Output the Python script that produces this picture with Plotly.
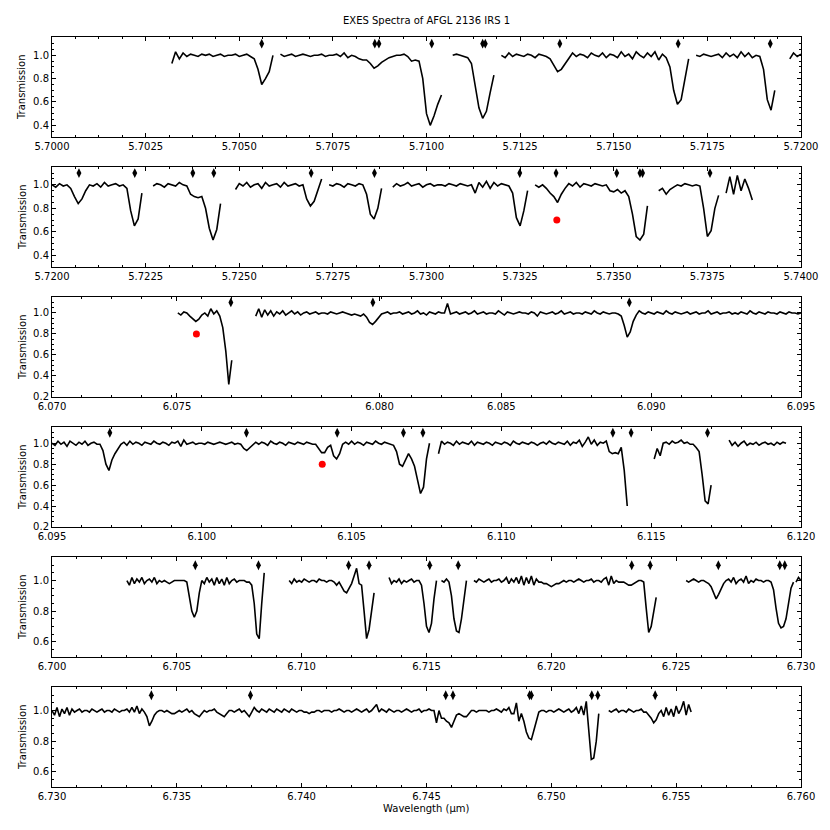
import plotly.graph_objects as go
from plotly.subplots import make_subplots

STEP = 0.0001  # wavelength sampling of the spectra (um)

# ---------------- Panel 1 : 5.700 - 5.720 um ----------------
p1_a = [0.93,1.03,0.97,1.02,0.99,1.01,1.00,0.99,1.01,1.00,
        1.01,0.99,1.00,1.01,0.99,1.00,1.00,1.01,0.99,1.00,
        1.01,0.99,0.97,0.88,0.75,0.80,0.86,1.00]
p1_b = [1.01,0.99,1.00,1.01,0.99,1.00,1.01,1.00,0.99,1.00,
        1.00,1.01,0.99,1.00,1.00,1.01,0.99,1.02,0.98,1.00,
        0.99,0.97,0.96,0.96,0.93,0.89,0.91,0.94,0.96,0.98,
        0.99,1.00,1.00,1.01,0.99,0.95,0.96,0.95,0.80,0.50,
        0.40,0.48,0.58,0.66]
p1_c = [1.00,1.01,1.00,0.99,0.98,0.93,0.75,0.55,0.46,0.52,0.68,0.83]
p1_d = [1.00,0.98,1.02,0.99,1.01,1.00,0.99,1.01,1.00,0.98,
        1.01,1.00,0.99,0.97,0.91,0.86,0.88,0.93,0.98,1.02,
        0.99,1.01,1.00,0.98,1.02,1.00,0.99,1.02,0.98,1.01,
        1.00,0.98,1.03,0.99,1.01,0.97,1.03,1.00,0.98,1.02,
        0.99,1.03,0.96,1.01,0.98,0.90,0.70,0.58,0.62,0.80,
        0.97]
p1_e = [1.00,0.99,1.01,1.00,0.99,1.00,1.01,0.98,1.02,0.99,
        1.01,0.98,1.03,0.99,1.02,0.98,1.00,0.99,0.88,0.62,
        0.53,0.70]
p1_f = [0.97,1.02,0.99,1.01]
p1_starts = [5.7032, 5.7061, 5.7107, 5.7120, 5.7172, 5.7197]
p1_markers = [5.7056, 5.70862, 5.70873, 5.71014, 5.71150, 5.71157,
              5.71356, 5.71672, 5.71918]

# ---------------- Panel 2 : 5.720 - 5.740 um ----------------
p2_a = [1.00,0.98,1.01,0.99,1.00,0.97,0.90,0.84,0.88,0.95,1.00,
        0.99,1.01,0.98,1.02,0.99,1.00,1.01,0.99,1.00,
        0.97,0.78,0.65,0.71,0.93]
p2_b = [0.99,1.01,1.00,0.98,1.01,1.00,0.99,1.02,1.00,0.99,
        0.92,0.90,0.89,0.90,0.80,0.63,0.53,0.62,0.84]
p2_c = [0.96,1.01,0.99,1.02,0.98,1.00,1.01,0.97,1.02,0.99,
        1.00,1.01,0.98,1.02,0.99,1.00,1.01,0.99,1.00,
        0.88,0.82,0.86,0.96,1.05]
p2_d = [1.00,0.99,1.01,1.00,0.98,1.01,1.00,0.99,1.01,1.00,
        0.92,0.75,0.71,0.80,0.97]
p2_e = [0.98,1.01,0.99,1.00,1.02,0.99,1.00,1.01,0.98,1.00,
        1.01,0.99,1.00,1.00,0.99,1.01,1.00,0.99,1.01,1.00,
        0.99,1.00,0.93,1.02,0.98,1.03,0.97,1.02,0.99,1.01,
        1.00,0.99,0.93,0.72,0.65,0.78,0.95]
p2_f = [1.00,0.98,1.00,0.97,0.93,0.90,0.85,0.92,0.97,
        1.01,0.99,1.02,0.98,1.01,1.00,0.99,1.01,1.00,0.99,1.00,
        0.95,0.94,0.96,0.93,0.95,0.90,0.75,0.56,0.53,0.58,0.82]
p2_g = [0.95,0.97,0.92,0.96,0.98,1.00,0.99,1.01,1.00,0.99,1.00,
        0.99,0.80,0.56,0.61,0.80,0.91]
p2_h = [0.93,1.07,0.92,1.08,0.95,1.05,0.97,0.87]
p2_starts = [5.7200, 5.7227, 5.7249, 5.7274, 5.7291, 5.7329, 5.7362, 5.7380]
p2_markers = [5.72072, 5.72221, 5.72376, 5.72432, 5.72692, 5.72861,
              5.73249, 5.73346, 5.73508, 5.73570, 5.73577, 5.73757]
p2_red_x = [5.73348]
p2_red_y = [0.70]

# ---------------- Panel 3 : 6.070 - 6.095 um ----------------
p3_a = [1.00,0.98,1.01,1.00,0.97,0.94,0.92,0.94,0.98,1.00,
        0.97,1.04,0.99,1.02,0.97,0.86,0.64,0.32,0.55]
p3_b = [0.97,1.04,0.96,1.03,0.98,1.02,0.97,1.01,0.99,1.02,
        0.98,1.00,1.02,0.99,1.01,0.98,1.00,1.01,0.99,1.00,
        1.01,0.99,1.00,1.00,0.99,1.01,1.00,0.99,1.00,1.01,
        1.00,0.99,0.98,0.99,0.98,0.97,0.99,0.96,0.91,0.89,
        0.92,0.96,0.99,1.00,1.01,0.99,1.00,1.00,1.01,0.99,
        1.00,1.01,0.99,1.00,1.02,0.99,1.00,0.98,1.01,1.00,
        0.99,1.01,1.00,1.00,1.09,0.99,1.00,1.01,0.99,1.00,
        1.01,0.99,1.00,1.02,0.99,1.00,1.01,0.99,1.00,1.00,
        0.99,1.02,1.00,0.98,1.01,1.00,0.99,1.00,1.01,1.00,
        1.00,0.99,1.01,1.00,0.97,1.01,1.00,0.99,1.00,1.01,
        0.99,1.00,1.02,0.99,1.00,1.01,0.99,1.00,1.00,0.99,
        1.01,1.00,0.99,1.02,1.00,0.99,1.01,1.00,0.99,1.00,
        1.00,0.99,0.97,0.88,0.77,0.82,0.92,0.98,1.02,1.00,
        0.99,1.01,1.00,0.99,1.01,1.00,0.99,1.02,1.00,0.99,
        1.01,1.00,0.99,1.00,1.01,0.99,1.00,1.01,0.99,1.00,
        1.00,1.02,0.99,1.00,1.01,0.99,1.00,1.00,1.01,0.99,
        1.00,0.99,1.01,1.00,0.99,1.02,1.00,0.99,1.01,1.00,
        0.99,1.01,1.00,1.00,0.99,1.01,1.00,0.99,1.01,1.00,
        1.00,0.99,1.00]
p3_starts = [6.0742, 6.0768]
p3_markers = [6.07597, 6.08071, 6.08927]
p3_red_x = [6.07482]
p3_red_y = [0.80]
# tick labels of this panel sit at these wavelengths in the reference
p3_tickvals = [6.0700, 6.07417, 6.08093, 6.0850, 6.0900, 6.0950]
p3_ticktext = ["6.070", "6.075", "6.080", "6.085", "6.090", "6.095"]

# ---------------- Panel 4 : 6.095 - 6.120 um ----------------
p4_a = [1.00,0.98,1.02,0.99,1.01,0.97,1.02,1.00,0.98,1.01,
        0.99,1.02,0.98,1.00,1.01,0.99,0.99,0.93,0.80,0.74,
        0.84,0.90,0.95,0.99,1.01,0.98,1.02,0.99,1.01,1.00,
        0.98,1.01,1.00,0.99,1.02,1.00,0.99,1.01,1.00,0.98,
        1.01,1.00,1.02,0.97,1.03,0.99,1.00,1.01,0.99,1.00,
        1.00,0.99,1.01,1.00,0.99,1.00,1.01,1.00,0.99,1.00,
        1.01,0.99,1.00,0.99,0.95,0.93,0.96,0.99,1.01,0.99,
        1.01,1.00,0.98,1.02,1.00,0.99,1.01,1.00,0.98,1.01,
        1.00,0.99,1.01,1.00,0.99,1.01,1.00,0.99,0.99,0.95,
        0.91,0.91,0.96,0.98,0.88,0.85,0.90,0.99,1.01,0.99,
        1.02,0.99,1.01,1.00,0.98,1.01,1.00,0.99,1.02,1.00,
        0.99,1.01,1.00,0.99,0.98,0.92,0.80,0.78,0.84,0.90,
        0.85,0.78,0.65,0.52,0.58,0.85,1.00]
p4_b = [0.90,1.02,0.99,1.01,1.00,0.98,1.02,0.99,1.01,1.00,
        0.99,1.02,0.98,1.01,1.00,0.99,1.01,1.00,0.98,1.01,
        1.00,0.99,1.01,1.00,0.98,1.02,1.00,0.99,1.01,1.00,
        0.99,1.01,1.00,0.98,1.00,1.01,0.99,1.02,1.00,0.99,
        1.01,1.00,0.99,1.02,0.98,1.01,1.00,1.03,0.97,1.01,
        1.06,0.99,1.03,0.98,1.01,1.00,1.02,0.92,0.90,0.91,
        0.90,0.96,0.74,0.40]
p4_c = [0.85,0.95,0.88,1.00,1.01,0.99,1.02,1.00,1.01,1.03,
        1.00,1.01,0.99,0.99,0.96,0.92,0.70,0.45,0.42,0.60]
p4_d = [1.03,0.98,1.01,0.97,1.00,1.02,0.98,1.00,0.99,1.01,
        0.98,1.00,1.01,0.99,1.00,0.98,1.01,0.99,1.01,1.00]
p4_starts = [6.0950, 6.1079, 6.1151, 6.1176]
p4_markers = [6.09693, 6.10149, 6.10452, 6.10673, 6.10738, 6.11372,
              6.11433, 6.11688]
p4_red_x = [6.10402]
p4_red_y = [0.80]

# ---------------- Panel 5 : 6.700 - 6.730 um ----------------
p5_a = [1.00,0.97,1.02,0.98,1.01,0.99,1.02,0.98,1.00,1.01,
        0.99,1.02,0.98,1.00,0.99,1.00,0.99,0.98,0.99,1.00,
        1.00,1.00,1.00,1.00,0.99,0.90,0.80,0.76,0.80,0.92,
        1.00,0.98,1.02,0.99,1.01,0.97,1.02,0.98,1.01,0.97,
        1.02,0.98,1.00,1.01,0.99,1.00,1.00,1.00,0.99,0.99,
        0.97,0.85,0.65,0.62,0.85,1.05]
p5_b = [1.00,0.98,1.01,0.99,1.00,0.99,1.01,1.00,0.99,1.00,
        1.00,0.99,1.01,1.00,1.00,0.99,1.00,1.00,0.99,0.97,0.99,
        0.96,0.93,0.92,0.95,0.98,1.03,1.08,0.98,0.97,0.80,
        0.62,0.68,0.80,0.92]
p5_c = [1.02,0.98,1.00,0.99,1.01,0.98,1.00,0.99,1.00,1.01,
        0.99,1.00,1.00,0.97,0.85,0.70,0.66,0.72,0.88,1.00]
p5_d = [1.00,0.99,1.01,0.99,0.90,0.75,0.67,0.66,0.75,0.88,1.00]
p5_e = [1.00,0.99,1.01,1.00,0.99,1.00,1.01,0.99,1.00,1.00,
        1.01,0.99,1.00,1.02,0.98,1.01,0.99,1.02,0.98,1.03,
        0.97,1.02,0.98,1.03,0.97,1.01,0.99,0.99,0.98,0.98,
        0.97,0.96,0.97,0.98,0.98,0.99,1.00,0.99,1.00,1.00,
        0.99,1.00,1.01,1.00,0.99,1.00,1.00,1.01,0.99,1.00,
        1.00,0.99,1.01,1.02,0.97,1.03,0.98,1.00,0.99,0.99,
        0.99,0.98,0.97,0.97,0.98,0.99,1.00,1.00,0.99,0.82,
        0.66,0.70,0.80,0.89]
p5_f = [1.00,0.99,1.00,1.01,1.00,0.99,1.00,1.00,0.99,0.98,
        0.96,0.92,0.88,0.91,0.95,0.98,1.00,1.01,0.99,1.02,
        0.98,1.00,1.01,0.99,1.03,0.98,1.00,0.99,1.01,1.00,
        1.00,0.99,1.00,1.00,0.99,0.94,0.82,0.72,0.69,0.70,
        0.75,0.85,0.95,0.99]
p5_g = [0.99,1.02,1.00]
p5_starts = [6.7030, 6.7095, 6.7135, 6.7156, 6.7169, 6.7254, 6.7298]
p5_markers = [6.70574, 6.70827, 6.71188, 6.71270, 6.71513, 6.71627,
              6.72322, 6.72396, 6.72669, 6.72915, 6.72935]

# ---------------- Panel 6 : 6.730 - 6.760 um ----------------
p6_a = [1.00,0.97,1.02,0.96,1.01,0.98,1.02,0.97,1.01,0.99,
        1.00,1.01,0.99,1.00,1.00,0.99,1.01,1.00,0.99,1.00,
        1.01,0.99,1.00,1.00,0.99,1.01,1.00,0.99,1.00,1.00,
        1.01,0.99,1.02,0.99,1.03,0.98,1.01,0.99,0.96,0.90,
        0.93,0.97,0.99,1.00,1.00,0.99,1.00,0.99,0.98,0.98,
        0.99,1.00,0.99,1.00,1.01,0.99,1.00,0.98,0.97,0.96,
        0.98,1.00,0.99,1.00,1.00,1.01,0.99,0.98,0.97,0.96,
        0.98,1.00,1.00,0.99,1.00,1.01,0.99,1.00,0.98,0.96,
        0.99,1.02,1.00,0.99,1.01,1.00,0.99,1.01,1.00,0.99,
        1.01,1.00,0.99,1.01,1.00,0.99,1.01,1.00,0.99,1.00,
        1.00,0.99,0.99,0.98,0.99,0.99,1.00,1.00,0.99,1.00,
        1.00,1.00,0.99,1.00,1.00,1.01,1.00,0.99,1.00,1.00,
        0.99,1.00,1.01,1.00,0.99,1.00,1.01,0.99,1.00,1.02,
        1.04,0.99,1.01,1.00,0.99,1.01,1.00,0.99,1.00,1.00,
        0.99,1.00,1.01,1.00,0.99,1.00,1.00,1.01,0.99,1.00,
        1.00,1.01,1.00,1.00,0.92,1.00,0.95,0.95,0.93,0.92,
        0.89,0.93,0.97,0.98,0.97,0.96,0.96,0.98,1.00,1.00,
        0.99,1.00,1.00,1.00,1.00,0.99,1.00,1.00,1.01,1.00,
        0.99,1.01,1.00,1.02,0.98,0.98,1.05,0.93,0.98,0.93,
        0.86,0.82,0.81,0.87,0.93,0.99,1.00,1.00,0.99,1.00,
        1.00,0.99,1.00,1.01,1.00,0.99,1.00,1.01,0.99,1.00,
        1.02,0.98,1.03,0.97,1.06,0.85,0.68,0.69,0.80,0.98]
p6_b = [1.00,0.99,1.00,1.01,0.99,1.00,1.00,0.99,1.01,1.00,
        0.99,1.00,1.00,1.01,0.99,0.99,0.97,0.95,0.92,0.94,
        0.98,1.00,0.96,1.02,0.97,1.01,0.96,1.03,0.98,1.01,
        1.06,0.97,1.04,0.99]
p6_starts = [6.7300, 6.7523]
p6_markers = [6.73398, 6.73795, 6.74577, 6.74606, 6.74913, 6.74920,
              6.75162, 6.75186, 6.75416]

panels = [
    dict(segs=[p1_a, p1_b, p1_c, p1_d, p1_e, p1_f], starts=p1_starts,
         markers=p1_markers, red=None, xr=[5.700, 5.720], yr=[0.30, 1.157],
         dtick=0.0025, minor=0.000625, fmt=".4f", ticks=None),
    dict(segs=[p2_a, p2_b, p2_c, p2_d, p2_e, p2_f, p2_g, p2_h], starts=p2_starts,
         markers=p2_markers, red=(p2_red_x, p2_red_y), xr=[5.720, 5.740],
         yr=[0.30, 1.152], dtick=0.0025, minor=0.000625, fmt=".4f", ticks=None),
    dict(segs=[p3_a, p3_b], starts=p3_starts, markers=p3_markers,
         red=(p3_red_x, p3_red_y), xr=[6.070, 6.095], yr=[0.1999, 1.152],
         dtick=0.005, minor=0.001, fmt=".3f", ticks=(p3_tickvals, p3_ticktext)),
    dict(segs=[p4_a, p4_b, p4_c, p4_d], starts=p4_starts, markers=p4_markers,
         red=(p4_red_x, p4_red_y), xr=[6.095, 6.120], yr=[0.1999, 1.155],
         dtick=0.005, minor=0.001, fmt=".3f", ticks=None),
    dict(segs=[p5_a, p5_b, p5_c, p5_d, p5_e, p5_f, p5_g], starts=p5_starts,
         markers=p5_markers, red=None, xr=[6.700, 6.730], yr=[0.50, 1.154],
         dtick=0.005, minor=0.001, fmt=".3f", ticks=None),
    dict(segs=[p6_a, p6_b], starts=p6_starts, markers=p6_markers, red=None,
         xr=[6.730, 6.760], yr=[0.50, 1.154], dtick=0.005, minor=0.001,
         fmt=".3f", ticks=None),
]

MARK_Y = 1.10
FONT = "DejaVu Sans"

fig = make_subplots(rows=6, cols=1, vertical_spacing=0.04)

for i, p in enumerate(panels, start=1):
    xs, ys = [], []
    for start, vals in zip(p["starts"], p["segs"]):
        for k, v in enumerate(vals):
            xs.append(round(start + k * STEP, 5))
            ys.append(v)
        xs.append(None)
        ys.append(None)
    fig.add_trace(go.Scatter(x=xs, y=ys, mode="lines",
                             line=dict(color="black", width=1.6),
                             showlegend=False, hoverinfo="skip"), row=i, col=1)
    fig.add_trace(go.Scatter(x=p["markers"], y=[MARK_Y] * len(p["markers"]),
                             mode="markers",
                             marker=dict(symbol="diamond-tall", size=7,
                                         color="black"),
                             showlegend=False), row=i, col=1)
    if p["red"] is not None:
        fig.add_trace(go.Scatter(x=p["red"][0], y=p["red"][1], mode="markers",
                                 marker=dict(symbol="circle", size=7,
                                             color="red"),
                                 showlegend=False), row=i, col=1)
    lo, hi = p["xr"]
    span = hi - lo
    xkw = dict(range=[lo - span * 1e-5, hi + span * 1e-5],
               ticks="inside", ticklen=4, tickwidth=1, tickcolor="black",
               mirror="allticks", showline=True, linecolor="black",
               linewidth=1, showgrid=False, zeroline=False,
               tickfont=dict(family=FONT, size=10, color="black"),
               minor=dict(ticks="inside", ticklen=2, dtick=p["minor"],
                          tick0=lo, tickcolor="black", showgrid=False))
    if p["ticks"] is None:
        xkw.update(tick0=lo, dtick=p["dtick"], tickformat=p["fmt"])
    else:
        xkw.update(tickmode="array", tickvals=p["ticks"][0],
                   ticktext=p["ticks"][1])
    fig.update_xaxes(row=i, col=1, **xkw)
    fig.update_yaxes(row=i, col=1, range=p["yr"], tick0=0, dtick=0.2,
                     tickformat=".1f", ticks="inside", ticklen=4, tickwidth=1,
                     tickcolor="black", mirror="allticks", showline=True,
                     linecolor="black", linewidth=1, showgrid=False,
                     zeroline=False,
                     tickfont=dict(family=FONT, size=10, color="black"),
                     minor=dict(ticks="inside", ticklen=2, dtick=0.05,
                                tickcolor="black", showgrid=False))

annotations = []
H = 750.0
for i in range(6):
    top = 1 - i * 130 / H
    mid = top - 50 / H
    annotations.append(dict(text="Transmission", xref="paper", yref="paper",
                            x=(22 - 52) / 751.0, y=mid, textangle=-90,
                            showarrow=False, xanchor="center",
                            yanchor="middle",
                            font=dict(family=FONT, size=10, color="black")))
annotations.append(dict(text="Wavelength (\u03bcm)", xref="paper", yref="paper",
                        x=0.5, y=-21 / H, showarrow=False, xanchor="center",
                        yanchor="middle",
                        font=dict(family=FONT, size=10, color="black")))
annotations.append(dict(text="EXES Spectra of AFGL 2136 IRS 1", xref="paper",
                        yref="paper", x=0.5, y=1 + 17 / H, showarrow=False,
                        xanchor="center", yanchor="middle",
                        font=dict(family=FONT, size=10, color="black")))

# the page body adds an 8 px offset, so the figure is 822 px and margins are
# chosen so the plotting area lands at x 52..803, y 37..787 of the window
fig.update_layout(width=822, height=822,
                  margin=dict(l=44, r=27, t=29, b=43),
                  paper_bgcolor="white", plot_bgcolor="white",
                  annotations=annotations, showlegend=False,
                  font=dict(family=FONT, size=10, color="black"))

fig.write_html("out.html")
